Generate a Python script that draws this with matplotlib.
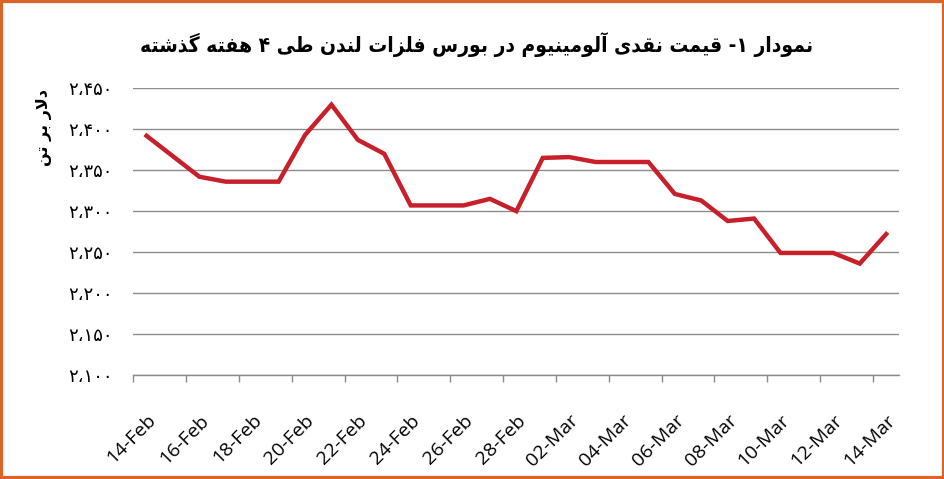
import numpy as np
import matplotlib
matplotlib.use("Agg")
import matplotlib.pyplot as plt
import matplotlib.transforms as mtransforms
from matplotlib.patches import Rectangle

# daily LME cash aluminium price, 14-Feb .. 14-Mar
days = ["14-Feb", "15-Feb", "16-Feb", "17-Feb", "18-Feb", "19-Feb", "20-Feb",
        "21-Feb", "22-Feb", "23-Feb", "24-Feb", "25-Feb", "26-Feb", "27-Feb",
        "28-Feb", "01-Mar", "02-Mar", "03-Mar", "04-Mar", "05-Mar", "06-Mar",
        "07-Mar", "08-Mar", "09-Mar", "10-Mar", "11-Mar", "12-Mar", "13-Mar",
        "14-Mar"]
price = [2392, 2367, 2342, 2336, 2336, 2336, 2393, 2430, 2387, 2370,
         2307, 2307, 2307, 2315, 2300, 2365, 2366, 2360, 2360, 2360,
         2321, 2313, 2288, 2291, 2249, 2249, 2249, 2236, 2272]
yticks = [2100, 2150, 2200, 2250, 2300, 2350, 2400, 2450]
ytick_labels = ["۲،۱۰۰", "۲،۱۵۰", "۲،۲۰۰", "۲،۲۵۰", "۲،۳۰۰", "۲،۳۵۰", "۲،۴۰۰", "۲،۴۵۰"]

title = "نمودار ۱- قیمت نقدی آلومینیوم در بورس فلزات لندن طی ۴ هفته گذشته"
ylabel = "دلار بر تن"

# matplotlib does no arabic shaping, so pick presentation forms by hand
RIGHT = {
    "ا": ("\uFE8D", "\uFE8E"), "آ": ("\uFE81", "\uFE82"), "د": ("\uFEA9", "\uFEAA"),
    "ذ": ("\uFEAB", "\uFEAC"), "ر": ("\uFEAD", "\uFEAE"), "ز": ("\uFEAF", "\uFEB0"),
    "ژ": ("\uFB8A", "\uFB8B"), "و": ("\uFEED", "\uFEEE"),
    "\uFEFB": ("\uFEFB", "\uFEFC"), "\uFEF5": ("\uFEF5", "\uFEF6"),
}
DUAL = {
    "ب": "\uFE8F\uFE90\uFE91\uFE92", "پ": "\uFB56\uFB57\uFB58\uFB59",
    "ت": "\uFE95\uFE96\uFE97\uFE98", "ث": "\uFE99\uFE9A\uFE9B\uFE9C",
    "ج": "\uFE9D\uFE9E\uFE9F\uFEA0", "چ": "\uFB7A\uFB7B\uFB7C\uFB7D",
    "ح": "\uFEA1\uFEA2\uFEA3\uFEA4", "خ": "\uFEA5\uFEA6\uFEA7\uFEA8",
    "س": "\uFEB1\uFEB2\uFEB3\uFEB4", "ش": "\uFEB5\uFEB6\uFEB7\uFEB8",
    "ط": "\uFEC1\uFEC2\uFEC3\uFEC4", "ع": "\uFEC9\uFECA\uFECB\uFECC",
    "ف": "\uFED1\uFED2\uFED3\uFED4", "ق": "\uFED5\uFED6\uFED7\uFED8",
    "ک": "\uFB8E\uFB8F\uFB90\uFB91", "گ": "\uFB92\uFB93\uFB94\uFB95",
    "ل": "\uFEDD\uFEDE\uFEDF\uFEE0", "م": "\uFEE1\uFEE2\uFEE3\uFEE4",
    "ن": "\uFEE5\uFEE6\uFEE7\uFEE8", "ه": "\uFEE9\uFEEA\uFEEB\uFEEC",
    "ی": "\uFBFC\uFBFD\uFBFE\uFBFF",
}


def farsi(s):
    s = s.replace("لا", "\uFEFB").replace("لآ", "\uFEF5")
    out = []
    for i, ch in enumerate(s):
        prev = s[i - 1] if i > 0 else ""
        nxt = s[i + 1] if i + 1 < len(s) else ""
        jp = prev in DUAL and (ch in DUAL or ch in RIGHT)
        jn = ch in DUAL and (nxt in DUAL or nxt in RIGHT)
        if ch in DUAL:
            f = DUAL[ch]
            out.append(f[3] if jp and jn else f[1] if jp else f[2] if jn else f[0])
        elif ch in RIGHT:
            out.append(RIGHT[ch][1] if jp else RIGHT[ch][0])
        else:
            out.append(ch)
    return "".join(out[::-1])


red = "#C8202B"
grid = "#8C8C8C"

fig = plt.figure(figsize=(9.45, 4.79), dpi=100)
ax = fig.add_axes([0.1411, 0.2171, 0.8106, 0.5986])

x = np.arange(len(days)) + 0.5
ax.plot(x, price, color=red, linewidth=3.2, solid_joinstyle="miter")

ax.set_xlim(0, len(days))
ax.set_ylim(2100, 2450)
ax.set_yticks(yticks, ytick_labels, fontsize=13, family="DejaVu Sans")
ax.tick_params(axis="y", length=0, pad=15)
ax.yaxis.grid(True, color=grid, linewidth=1.0)
ax.set_axisbelow(True)

# boundary ticks every 2 days, labels in the day slot
ax.set_xticks(np.arange(0, len(days), 2), minor=True)
ax.set_xticks(x[::2], days[::2], fontsize=14, family="Open Sans",
              rotation=45, ha="right", rotation_mode="anchor")
ax.tick_params(axis="x", which="major", length=0, pad=26)
ax.tick_params(axis="x", which="minor", length=5, color=grid, width=1.0)
off = mtransforms.ScaledTranslation(0, 0, fig.dpi_scale_trans)
for lab in ax.get_xticklabels():
    lab.set_transform(lab.get_transform() + off)

for s in ["left", "right", "top"]:
    ax.spines[s].set_visible(False)
ax.spines["bottom"].set_color(grid)
ax.spines["bottom"].set_linewidth(1.0)

fig.text(0.504, 0.906, farsi(title), ha="center", va="center",
         fontsize=15, fontweight="bold", fontstretch="condensed",
         family="DejaVu Sans")
fig.text(0.047, 0.734, farsi(ylabel), ha="center", va="center", rotation=90,
         fontsize=11.5, fontweight="bold", family="DejaVu Sans")

fig.patches.append(Rectangle((0, 0), 1, 1, transform=fig.transFigure, fill=False,
                             edgecolor="#D9652B", linewidth=4.5))

fig.savefig("out.png", dpi=100, facecolor="white")
